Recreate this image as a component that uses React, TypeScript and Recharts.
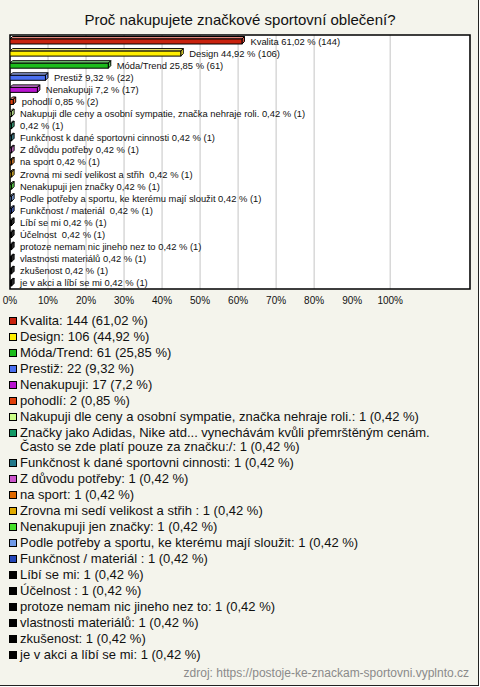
import React from 'react';
import { BarChart, Bar, XAxis, YAxis, CartesianGrid, ReferenceArea, LabelList } from 'recharts';

const answers = [
  'Kvalita',
  'Design',
  'Móda/Trend',
  'Prestiž',
  'Nenakupuji',
  'pohodlí',
  'Nakupuji dle ceny a osobní sympatie, značka nehraje roli.',
  'Značky jako Adidas, Nike atd... vynechávám kvůli přemrštěným cenám. Často se zde platí pouze za značku:/',
  'Funkčnost k dané sportovni cinnosti',
  'Z důvodu potřeby',
  'na sport',
  'Zrovna mi sedí velikost a střih ',
  'Nenakupuji jen značky',
  'Podle potřeby a sportu, ke kterému mají sloužit',
  'Funkčnost / materiál ',
  'Líbí se mi',
  'Účelnost ',
  'protoze nemam nic jineho nez to',
  'vlastnosti materiálů',
  'zkušenost',
  'je v akci a líbí se mi',
];

// the chart itself leaves out the long "Značky..." answer
const barNames = answers.map((a, i) => (i === 7 ? '' : a));

const counts = [144, 106, 61, 22, 17, 2, 1, 1, 1, 1, 1, 1, 1, 1, 1, 1, 1, 1, 1, 1, 1];
const percents = [61.02, 44.92, 25.85, 9.32, 7.2, 0.85, 0.42, 0.42, 0.42, 0.42, 0.42, 0.42, 0.42, 0.42, 0.42, 0.42, 0.42, 0.42, 0.42, 0.42, 0.42];

const colors = [
  '#c8220e', '#ffee00', '#1cbc1c', '#4a6ff0', '#b814d0', '#e0400c', '#ccff88',
  '#139a66', '#22788a', '#cc55cc', '#e06a00', '#e0aa00', '#44e02a', '#6f9ae8',
  '#2446b8', '#000000', '#000000', '#000000', '#000000', '#000000', '#000000',
];

const xTicks = [0, 10, 20, 30, 40, 50, 60, 70, 80, 90, 100];

const FONT = '"Liberation Sans", Arial, sans-serif';
const BG = '#f4f4ec';

const fmt = (v: number) => String(v).replace('.', ',');

const data = answers.map((a, i) => ({
  name: a,
  label: barNames[i],
  pct: percents[i],
  count: counts[i],
  color: colors[i],
}));

const lighten = (hex: string, t: number) => {
  const n = parseInt(hex.slice(1), 16);
  const r = (n >> 16) & 255, g = (n >> 8) & 255, b = n & 255;
  const m = (c: number) => Math.round(c + (255 - c) * t);
  return `rgb(${m(r)},${m(g)},${m(b)})`;
};

const D = 2.5;

const Bar3D = (props: any) => {
  const { x, y, width, height, payload } = props;
  const c = payload.color;
  const w = Math.max(width, 0);
  return (
    <g stroke="#000" strokeWidth={1}>
      <polygon
        points={`${x},${y} ${x + D},${y - D} ${x + w + D},${y - D} ${x + w},${y}`}
        fill={lighten(c, 0.45)}
      />
      <polygon
        points={`${x + w},${y} ${x + w + D},${y - D} ${x + w + D},${y + height - D} ${x + w},${y + height}`}
        fill={lighten(c, 0.2)}
      />
      <rect x={x} y={y} width={w} height={height} fill={c} />
    </g>
  );
};

const BarLabel = (props: any) => {
  const { x, y, width, height, index } = props;
  const d = data[index];
  const txt = `${d.label ? d.label + ' ' : ''}${fmt(d.pct)} % (${d.count})`;
  return (
    <text
      x={x + width + D + 6}
      y={y + height / 2 - 0.5}
      dominantBaseline="central"
      fontSize={9.4}
      fontFamily={FONT}
      fill="#111"
      style={{ whiteSpace: 'pre' }}
    >
      {txt}
    </text>
  );
};

export default function App() {
  return (
    <div
      style={{
        position: 'absolute',
        left: 0,
        top: 0,
        width: 478,
        height: 685,
        background: BG,
        borderRight: '1px solid #222',
        borderBottom: '1px solid #222',
        fontFamily: FONT,
        overflow: 'hidden',
      }}
    >
      <div
        style={{
          position: 'absolute',
          top: 11,
          left: 0,
          width: 480,
          textAlign: 'center',
          fontSize: 15,
          color: '#111',
        }}
      >
        Proč nakupujete značkové sportovní oblečení?
      </div>

      <div style={{ position: 'absolute', left: 0, top: 0 }}>
        <BarChart
          width={480}
          height={310}
          data={data}
          layout="vertical"
          margin={{ top: 35, right: 10, left: 10, bottom: 1 }}
          barCategoryGap={3}
        >
          <CartesianGrid horizontal={false} stroke="#c4c4c4" fill="#ffffff" />
          <XAxis
            type="number"
            domain={[0, 121]}
            ticks={xTicks}
            tickFormatter={(v: number) => `${v}%`}
            axisLine={false}
            tickLine={false}
            height={20}
            tickMargin={2}
            tick={{ fontSize: 10, fontFamily: FONT, fill: '#111' }}
            allowDataOverflow
          />
          <YAxis type="category" dataKey="name" hide width={0} />
          <ReferenceArea x1={0} x2={121} fill="none" stroke="#000" strokeWidth={1.5} ifOverflow="visible" />
          <Bar dataKey="pct" barSize={5} shape={<Bar3D />} isAnimationActive={false}>
            <LabelList dataKey="pct" content={<BarLabel />} />
          </Bar>
        </BarChart>
      </div>

      <div style={{ position: 'absolute', top: 313, left: 9, width: 445, fontSize: 13, color: '#111' }}>
        {data.map((d, i) => (
          <div key={i} style={{ display: 'flex', alignItems: 'flex-start', lineHeight: '14px', padding: '1px 0' }}>
            <span
              style={{
                display: 'inline-block',
                width: 6,
                height: 6,
                background: d.color,
                border: '1px solid #000',
                marginTop: 3,
                marginRight: 3,
                flex: 'none',
              }}
            />
            <span style={{ whiteSpace: 'pre-wrap' }}>{`${d.name}: ${d.count} (${fmt(d.pct)} %)`}</span>
          </div>
        ))}
      </div>

      <div style={{ position: 'absolute', right: 9, top: 666, fontSize: 12, color: '#8a8a8a' }}>
        zdroj: https://postoje-ke-znackam-sportovni.vyplnto.cz
      </div>
    </div>
  );
}
